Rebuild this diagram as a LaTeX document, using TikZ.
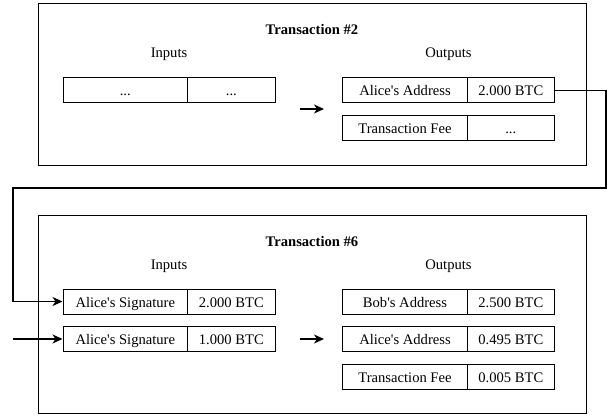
\documentclass[tikz,border=0pt]{standalone}
\usepackage{fontspec}
\setmainfont{Liberation Serif}
\usetikzlibrary{arrows.meta}
\newcommand\myq{\textquotesingle}
\newcommand\myfs{\fontsize{14.6}{17}\selectfont}
\begin{document}
\begin{tikzpicture}[x=1pt,y=-1pt,
  frame/.style={draw, line width=1pt, inner sep=0pt},
  cell/.style={draw, line width=1pt, minimum height=25pt, inner sep=0pt, font=\myfs, text height=13pt, text depth=2pt},
  lcell/.style={cell, minimum width=124.6pt},
  rcell/.style={cell, minimum width=87pt},
  title/.style={font=\myfs\bfseries, inner sep=0pt},
  lab/.style={font=\myfs, inner sep=0pt},
  arr/.style={line width=1.1pt, -{Stealth[length=10pt,width=9pt,inset=3pt]}}
]
\useasboundingbox (0,0) rectangle (615,418);

% Transaction #2
\node[frame, minimum width=548pt, minimum height=161.5pt] (f2) at (312,84.25) {};
\node[title] (t2) at (312,29.5) {Transaction \#2};
\node[lab] (in2) at (169,54.5) {Inputs};
\node[lab] (out2) at (448.5,54.5) {Outputs};
\node[lcell] (i2a) at (125.3,90.2) {...};
\node[rcell, minimum width=87.3pt] (i2b) at (231.35,90.2) {...};
\node[lcell] (o2a) at (405,90.2) {Alice\myq s Address};
\node[rcell] (o2b) at (510.8,90.2) {2.000 BTC};
\node[lcell] (o2c) at (405,127.5) {Transaction Fee};
\node[rcell] (o2d) at (510.8,127.5) {...};
\coordinate (a2s) at (300,109);
\coordinate (a2e) at (324,109);
\draw[arr] (a2s) -- (a2e);

% Transaction #6
\node[frame, minimum width=548pt, minimum height=198pt] (f6) at (312,314) {};
\node[title] (t6) at (312,241) {Transaction \#6};
\node[lab] (in6) at (169,266) {Inputs};
\node[lab] (out6) at (448.5,266) {Outputs};
\node[lcell] (i6a) at (125.3,301.5) {Alice\myq s Signature};
\node[rcell, minimum width=87.3pt] (i6b) at (231.35,301.5) {2.000 BTC};
\node[lcell] (i6c) at (125.3,339) {Alice\myq s Signature};
\node[rcell, minimum width=87.3pt] (i6d) at (231.35,339) {1.000 BTC};
\node[lcell] (o6a) at (405,301.5) {Bob\myq s Address};
\node[rcell] (o6b) at (510.8,301.5) {2.500 BTC};
\node[lcell] (o6c) at (405,339) {Alice\myq s Address};
\node[rcell] (o6d) at (510.8,339) {0.495 BTC};
\node[lcell] (o6e) at (405,376.5) {Transaction Fee};
\node[rcell] (o6f) at (510.8,376.5) {0.005 BTC};
\coordinate (a6s) at (300,339);
\coordinate (a6e) at (324,339);
\draw[arr] (a6s) -- (a6e);

% connectors
\coordinate (c1) at (606,188);
\coordinate (c2) at (13,188);
\draw[arr] (o2b.east) -| (c1) -- (c2) |- (i6a.west);
\coordinate (s6) at (13,339);
\draw[arr] (s6) -- (i6c.west);
\end{tikzpicture}
\end{document}
